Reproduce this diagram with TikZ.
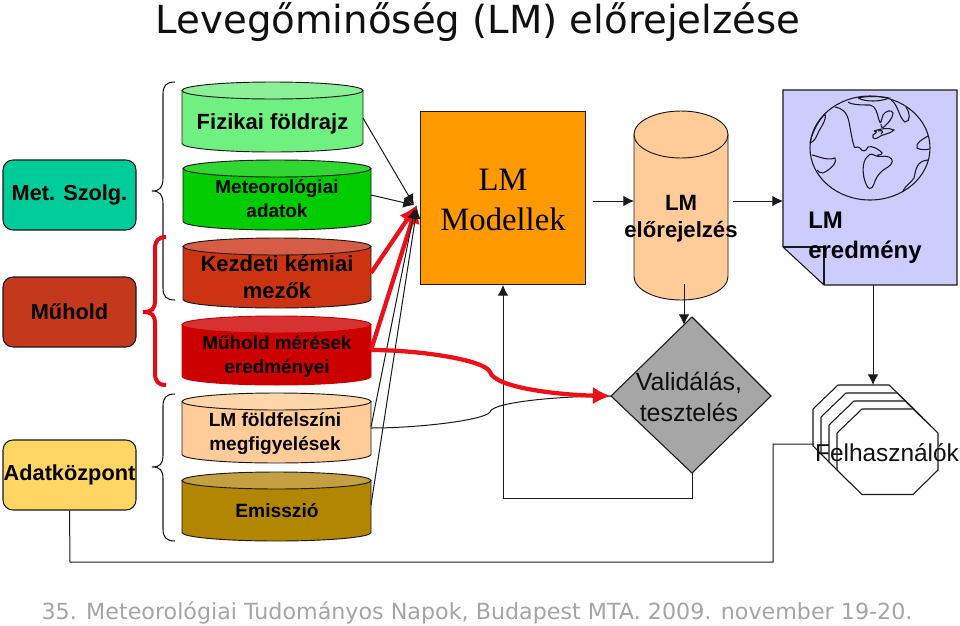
\documentclass[tikz,border=0pt]{standalone}
\usepackage{fontspec}
\setmainfont{Liberation Sans}
\newfontfamily\serifm{Liberation Serif}
\newfontfamily\djv{DejaVu Sans}
\usetikzlibrary{arrows.meta}
\definecolor{lnk}{HTML}{1A1A1A}
\definecolor{redline}{RGB}{238,16,24}
\definecolor{redbr}{RGB}{226,10,20}
\definecolor{titlec}{RGB}{16,16,16}
\definecolor{footc}{RGB}{165,165,165}
\definecolor{metc}{RGB}{0,204,153}
\definecolor{muhc}{RGB}{196,57,28}
\definecolor{adac}{RGB}{255,214,100}
\definecolor{aa}{RGB}{112,240,128}\definecolor{ab}{RGB}{140,240,150}
\definecolor{ba}{RGB}{0,204,0}\definecolor{bb}{RGB}{50,214,50}
\definecolor{ca}{RGB}{204,51,17}\definecolor{cb}{RGB}{214,92,70}
\definecolor{da}{RGB}{204,0,0}\definecolor{db}{RGB}{214,50,50}
\definecolor{ea}{RGB}{255,204,153}\definecolor{eb}{RGB}{255,214,170}
\definecolor{fa}{RGB}{178,134,0}\definecolor{fb}{RGB}{196,160,64}
\definecolor{orangec}{RGB}{255,153,0}
\definecolor{greyc}{RGB}{166,166,166}
\definecolor{docc}{RGB}{204,204,255}
\tikzset{
  lbl/.style={font=\bfseries\fontsize{16.5}{19}\selectfont,align=center,inner sep=0pt,text=black},
  roundbox/.style={draw=lnk,line width=.8pt,rounded corners=7.5pt,minimum width=99.75pt,minimum height=52.5pt,inner sep=0pt,font=\bfseries\fontsize{16.3}{19}\selectfont},
  link/.style={draw=lnk,line width=.75pt,-{Latex[length=8pt,width=8pt]}},
  plainlink/.style={draw=lnk,line width=.75pt},
  redlink/.style={draw=redline,line width=3.2pt,-{Latex[length=13.5pt,width=13pt]}},
  bracel/.style={draw=lnk,line width=.8pt},
  redbrace/.style={draw=redbr,line width=3pt},
  globe/.style={draw=lnk,line width=.8pt},
}
\newcommand{\cyl}[9]{% x1,x2,top,bottom,ry,body,cap,name,edge
  \pgfmathsetmacro{\xm}{(#1+#2)/2}
  \pgfmathsetmacro{\rx}{(#2-#1)/2}
  \pgfmathsetmacro{\cy}{#4-#5}
  \pgfmathsetmacro{\cyt}{#3+#5}
  \path[fill=#6,draw=#9,line width=.7pt] (#1,\cyt) -- (#1,\cy) .. controls (#1,\cy+.5523*#5) and (\xm-.5523*\rx,#4) .. (\xm,#4) .. controls (\xm+.5523*\rx,#4) and (#2,\cy+.5523*#5) .. (#2,\cy) -- (#2,\cyt) -- cycle;
  \path[fill=#7,draw=#9,line width=.7pt] (\xm,\cyt) ellipse [x radius=\rx,y radius=#5];
  \coordinate (#8) at (\xm,{(#3+#4)/2});
}
\begin{document}
\begin{tikzpicture}[x=.75pt,y=-.75pt]
\useasboundingbox (0,0) rectangle (960,625);
\fill[white] (0,0) rectangle (960,625);
% title and footer
\node[inner sep=0pt,anchor=base,font=\djv\fontsize{29}{32}\selectfont,text=titlec] (title) at (478,33) {Levegőminőség (LM) előrejelzése};
\node[inner sep=0pt,anchor=base,font=\djv\fontsize{16.66}{18}\selectfont,text=footc] (foot) at (477,619) {35. Meteorológiai Tudományos Napok, Budapest MTA. 2009. november 19-20.};
% left boxes
\node[roundbox,fill=metc] (met) at (69.5,195) {\raisebox{-.7pt}{Met. Szolg.}};
\node[roundbox,fill=muhc] (muh) at (69.5,312) {Műhold};
\node[roundbox,fill=adac] (adat) at (69.5,475) {\raisebox{-2pt}{Adatközpont}};
% cylinders
\cyl{182}{363}{82}{152}{8.5}{aa}{ab}{c1}{lnk}
\node[lbl] (c1t) at (272.5,124) {Fizikai földrajz};
\cyl{183}{371}{160}{230}{8.5}{ba}{bb}{c2}{lnk}
\node[lbl,font=\bfseries\fontsize{14.2}{18}\selectfont] (c2t) at (277,199) {Meteorológiai\\adatok};
\cyl{183}{371}{238}{308}{8.5}{ca}{cb}{c3}{lnk}
\node[lbl,font=\bfseries\fontsize{16.5}{20.3}\selectfont] (c3t) at (277,277.5) {Kezdeti kémiai\\mezők};
\cyl{182}{371}{316}{385}{8.5}{da}{db}{c4}{da}
\node[lbl,font=\bfseries\fontsize{14.2}{18}\selectfont] (c4t) at (277,356.5) {Műhold mérések\\eredményei};
\cyl{182}{371}{393}{463}{8.5}{ea}{eb}{c5}{lnk}
\node[lbl,font=\bfseries\fontsize{14.3}{17.5}\selectfont] (c5t) at (275,433.5) {LM földfelszíni\\megfigyelések};
\cyl{182}{371}{472}{541}{8.5}{fa}{fb}{c6}{lnk}
\node[lbl,font=\bfseries\fontsize{14.4}{16}\selectfont] (c6t) at (277,511) {Emisszió};
% braces
\draw[bracel] (175,82) .. controls (166,82) and (163,86) .. (163,94) -- (163,178) .. controls (163,187) and (160,191) .. (152,191) .. controls (160,191) and (163,195) .. (163,204) -- (163,288) .. controls (163,296) and (166,300) .. (175,300);
\draw[redbrace] (166,237) .. controls (158,237) and (155,241) .. (155,249) -- (155,300) .. controls (155,309) and (152,312) .. (143,312) .. controls (152,312) and (155,315) .. (155,324) -- (155,373) .. controls (155,381) and (158,385) .. (166,385);
\draw[bracel] (175,394) .. controls (166,394) and (163,398) .. (163,406) -- (163,455) .. controls (163,464) and (160,467) .. (152,467) .. controls (160,467) and (163,470) .. (163,479) -- (163,529) .. controls (163,537) and (166,541) .. (175,541);
% LM Modellek
\node[draw=lnk,line width=.8pt,fill=orangec,minimum width=123.75pt,minimum height=129.75pt,inner sep=0pt,anchor=north west] (model) at (420,111) {};
\node[inner sep=0pt,align=center,text=black,font=\serifm\fontsize{24.5}{29.5}\selectfont] (modelt) at (503,200) {LM\\Modellek};
% connectors into the models box
\coordinate (t1) at (414,205);
\draw[redlink] (371,273) -- (417,205);
\draw[redlink] (371,350) -- (417,205);
\draw[link] (363,118) -- (t1);
\draw[link] (371,195) -- (t1);
\draw[link] (371,427) -- (415,208);
\draw[link] (371,505) -- (417,208);
% forecast cylinder
\cyl{634}{728}{111}{300}{23.5}{ea}{ea}{fc}{lnk}
\node[lbl,font=\bfseries\fontsize{16.6}{20.3}\selectfont] (fct) at (681,219) {LM\\előrejelzés};
% arrows
\coordinate (a1) at (593,201);\coordinate (a2) at (733,201);\coordinate (a3) at (783,201);
\draw[link] (a1) -- (634,201);
\draw[link] (a2) -- (a3);
% diamond
\path[fill=greyc,draw=lnk,line width=.8pt] (692,317) -- (771,396) -- (692,473) -- (611,396) -- cycle;
\coordinate (dn) at (692,317);\coordinate (dw) at (611,396);\coordinate (ds) at (692,473);
\node[inner sep=0pt,align=center,font=\fontsize{18.7}{23}\selectfont,text=titlec] (val) at (689,397) {Validálás,\\ tesztelés};
\draw[link] (684,284) -- (684,325);
% feedback
\draw[link] (ds) -- (692,498) -- (503,498) -- (503,285);
% curves to validation
\draw[plainlink] (371,428) .. controls (420,428) and (485,420) .. (490,412) .. controls (492,402) and (560,396) .. (dw);
\draw[redlink] (371,350) .. controls (420,350) and (485,360) .. (490,372) .. controls (495,388) and (560,395) .. (dw);
% document
\path[fill=docc,draw=lnk,line width=.8pt] (783,90) -- (957,90) -- (957,285) -- (824,285) -- (783,247) -- cycle;
\draw[lnk,line width=.8pt] (783,247) -- (824,247) -- (824,285);
\node[lbl,align=left,anchor=west,font=\bfseries\fontsize{18}{22.5}\selectfont] (res) at (808,238) {LM\\eredmény};
% globe
\draw[globe] (870,148) ellipse [x radius=60,y radius=52];
\draw[globe] (835,107) .. controls (842,108) and (847,112) .. (849,122) .. controls (851,132) and (852,140) .. (854,146) .. controls (855,150) and (856,145) .. (860,148);
\draw[globe] (848,102) .. controls (852,105) and (862,105) .. (870,105) .. controls (876,106) and (877,113) .. (879,120) .. controls (881,126) and (881,121) .. (883,115) .. controls (885,111) and (892,109) .. (893,113) .. controls (893,118) and (888,123) .. (885,126) .. controls (882,129) and (881,127) .. (881,124);
\draw[globe] (858,98) .. controls (865,102) and (880,102) .. (889,98) .. controls (880,96) and (866,96) .. (858,98);
\draw[globe] (891,100) .. controls (898,104) and (899,118) .. (905,122) .. controls (911,122) and (910,112) .. (906,107);
\draw[globe] (874,131) .. controls (880,129) and (888,127) .. (894,130) .. controls (888,135) and (882,134) .. (879,137) .. controls (875,140) and (872,139) .. (873,135) .. controls (875,133) and (879,132) .. (874,131);
\draw[globe] (878,131) .. controls (882,130) and (884,131) .. (881,134);
\draw[globe] (860,148) .. controls (862,152) and (866,152) .. (868,147) .. controls (872,145) and (880,150) .. (882,153) .. controls (882,156) and (876,154) .. (878,156);
\draw[globe] (867,157) .. controls (862,162) and (862,175) .. (866,184) .. controls (868,190) and (872,190) .. (874,184) .. controls (876,176) and (882,170) .. (888,167) .. controls (893,164) and (894,159) .. (889,157) .. controls (884,155) and (878,158) .. (874,155) .. controls (871,153) and (868,155) .. (867,157);
\draw[globe] (810,143) .. controls (812,132) and (819,120) .. (825,114) .. controls (827,120) and (820,128) .. (818,133) .. controls (815,140) and (814,141) .. (810,143);
\draw[globe] (812,155) .. controls (818,156) and (826,161) .. (835,158) .. controls (838,162) and (830,170) .. (823,173) .. controls (820,173) and (818,172) .. (817,170);
\draw[globe] (928,136) .. controls (923,139) and (915,143) .. (917,148) .. controls (920,150) and (926,150) .. (929,149);
\draw[globe] (928,160) .. controls (916,161) and (916,170) .. (914,178) .. controls (910,184) and (905,186) .. (903,191);
% arrow to users
\draw[link] (873,285) -- (873,385);
% users
\foreach \k in {0,8,16,24}{
\path[fill=white,draw=lnk,line width=.8pt] (838+\k,385+\k) -- (889+\k,385+\k) -- (914+\k,409+\k) -- (914+\k,446+\k) -- (889+\k,470.5+\k) -- (838+\k,470.5+\k) -- (813+\k,446+\k) -- (813+\k,409+\k) -- cycle;
}
\node[inner sep=0pt,font=\fontsize{18.3}{22}\selectfont,text=titlec] (usr) at (887,453) {Felhasználók};
% bottom line
\coordinate (uw) at (814,444);
\draw[plainlink] (adat.south) -- (70,562) -- (773,562) -- (773,444) -- (uw);
\end{tikzpicture}
\end{document}
